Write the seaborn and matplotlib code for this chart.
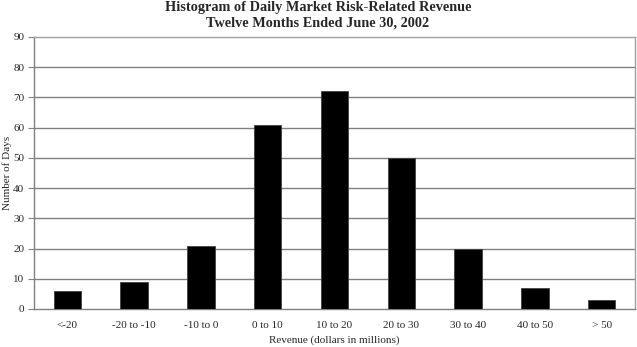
import matplotlib
matplotlib.use("Agg")
import matplotlib.pyplot as plt
import seaborn as sns
import pandas as pd

categories = ["<-20", "-20 to -10", "-10 to 0", "0 to 10", "10 to 20",
              "20 to 30", "30 to 40", "40 to 50", "> 50"]
days = [6, 9, 21, 61, 72, 50, 20, 7, 3]
y_ticks = [0, 10, 20, 30, 40, 50, 60, 70, 80, 90]

sns.set_style("white")
plt.rcParams["font.family"] = ["Liberation Serif", "DejaVu Serif"]

df = pd.DataFrame({"Range": categories, "Days": days})

fig = plt.figure(figsize=(6.37, 3.47), dpi=100)
W, H = 637, 347
l, r, t, b = 34, 635, 37, 309
ax = fig.add_axes([l / W, 1 - b / H, (r - l) / W, (b - t) / H])

sns.barplot(data=df, x="Range", y="Days", color="black", width=0.41,
            saturation=1, ax=ax, zorder=3)
for p in ax.patches:
    p.set_edgecolor("#404040")
    p.set_linewidth(0.6)

ax.set_ylim(0, 90)
ax.set_xlim(-0.5, len(categories) - 0.5)
ax.set_yticks(y_ticks)
ax.set_yticklabels([str(v) for v in y_ticks], fontsize=8)
for yv in y_ticks[1:-1]:
    ax.axhline(yv, color="#808080", linewidth=1.0, zorder=1)

ax.set_xticks(range(len(categories)))
ax.set_xticklabels(categories, fontsize=8)
ax.tick_params(axis="x", length=0, pad=9)
# boundary tick marks between categories
ax.set_xticks([i - 0.5 for i in range(len(categories) + 1)], minor=True)
ax.tick_params(axis="x", which="minor", length=4, direction="out",
               color="#808080", width=0.8)
ax.tick_params(axis="y", length=4, direction="out", color="#808080",
               width=0.8, pad=3, left=True)

for side in ["left", "bottom"]:
    ax.spines[side].set_color("#808080")
    ax.spines[side].set_linewidth(1.0)
for side in ["top", "right"]:
    ax.spines[side].set_color("#a0a0a0")
    ax.spines[side].set_linewidth(1.0)
    ax.spines[side].set_visible(True)

ax.set_xlabel("")
ax.set_ylabel("")
fig.text(334 / W, 1 - 340 / H, "Revenue (dollars in millions)",
         ha="center", va="center", fontsize=8)
fig.text(7 / W, 1 - 173 / H, "Number of Days", rotation=90,
         ha="center", va="center", fontsize=8)

fig.text(318 / W, 1 - 8 / H, "Histogram of Daily Market Risk-Related Revenue",
         ha="center", va="center", fontsize=10.3, fontweight="bold")
fig.text(318 / W, 1 - 23 / H, "Twelve Months Ended June 30, 2002",
         ha="center", va="center", fontsize=10.3, fontweight="bold")

fig.savefig("out.png", dpi=100)
